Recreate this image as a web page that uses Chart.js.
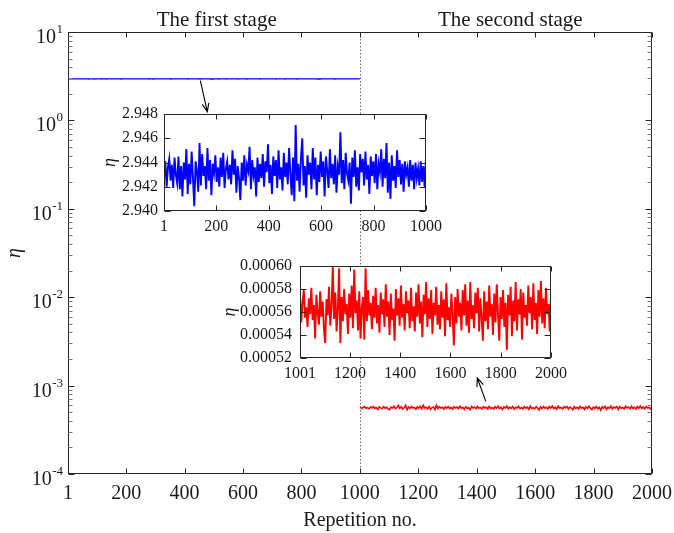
<!DOCTYPE html>
<html>
<head>
<meta charset="utf-8">
<script src="https://cdn.jsdelivr.net/npm/chart.js@4.4.1/dist/chart.umd.min.js"></script>
<style>
  html, body { margin: 0; padding: 0; background: #fff; }
  #wrap { position: relative; width: 674px; height: 533px; }
  canvas { position: absolute; }
</style>
</head>
<body>
<div id="wrap">
  <canvas id="main" width="674" height="533" style="left:0;top:0"></canvas>
  <canvas id="inset1" width="360" height="140" style="left:90px;top:100px"></canvas>
  <canvas id="inset2" width="360" height="130" style="left:215px;top:255px"></canvas>
</div>
<script>
// 第一阶段 η（每5次重复取一个值，读自插图）
const stage1Eta = [
  2.9428, 2.9441, 2.9420, 2.9436, 2.9443, 2.9425, 2.9438, 2.9419, 2.9444, 2.9430,
  2.9423, 2.9445, 2.9418, 2.9437, 2.9412, 2.9440, 2.9426, 2.9451, 2.9414, 2.9439,
  2.9422, 2.9449, 2.9427, 2.9404, 2.9441, 2.9433, 2.9416, 2.9456, 2.9421, 2.9447,
  2.9429, 2.9437, 2.9418, 2.9452, 2.9425, 2.9442, 2.9413, 2.9439, 2.9431, 2.9446,
  2.9424, 2.9436, 2.9420, 2.9444, 2.9428, 2.9448, 2.9419, 2.9435, 2.9441, 2.9426,
  2.9438, 2.9422, 2.9450, 2.9430, 2.9443, 2.9415, 2.9437, 2.9427, 2.9409, 2.9440,
  2.9425, 2.9446, 2.9421, 2.9438, 2.9433, 2.9453, 2.9418, 2.9442, 2.9429, 2.9436,
  2.9412, 2.9444, 2.9424, 2.9439, 2.9427, 2.9447, 2.9420, 2.9441, 2.9432, 2.9455,
  2.9423, 2.9438, 2.9414, 2.9445, 2.9429, 2.9442, 2.9419, 2.9450, 2.9426, 2.9436,
  2.9417, 2.9448, 2.9428, 2.9440, 2.9422, 2.9452, 2.9431, 2.9413, 2.9444, 2.9408,
  2.9471, 2.9425, 2.9439, 2.9416, 2.9443, 2.9460, 2.9421, 2.9437, 2.9411, 2.9446,
  2.9430, 2.9440, 2.9418, 2.9452, 2.9426, 2.9444, 2.9413, 2.9438, 2.9424, 2.9449,
  2.9428, 2.9441, 2.9412, 2.9445, 2.9433, 2.9419, 2.9451, 2.9427, 2.9439, 2.9422,
  2.9446, 2.9415, 2.9437, 2.9430, 2.9465, 2.9423, 2.9442, 2.9418, 2.9448, 2.9431,
  2.9425, 2.9440, 2.9406, 2.9444, 2.9428, 2.9450, 2.9420, 2.9436, 2.9417, 2.9447,
  2.9432, 2.9443, 2.9421, 2.9449, 2.9426, 2.9438, 2.9414, 2.9445, 2.9429, 2.9441,
  2.9423, 2.9447, 2.9418, 2.9439, 2.9432, 2.9451, 2.9420, 2.9443, 2.9427, 2.9456,
  2.9415, 2.9440, 2.9410, 2.9446, 2.9425, 2.9437, 2.9419, 2.9450, 2.9428, 2.9442,
  2.9422, 2.9439, 2.9416, 2.9441, 2.9430, 2.9436, 2.9420, 2.9442, 2.9425, 2.9438,
  2.9418, 2.9440, 2.9427, 2.9435, 2.9421, 2.9441, 2.9424, 2.9437, 2.9419, 2.9444
];
// 第二阶段 η ×10^4
const stage2EtaE4 = [
  5.74, 5.51, 5.68, 5.79, 5.55, 5.64, 5.47, 5.72, 5.58, 5.81,
  5.53, 5.66, 5.37, 5.75, 5.60, 5.49, 5.78, 5.56, 5.69, 5.45,
  5.33, 5.71, 5.57, 5.82, 5.48, 5.65, 5.99, 5.54, 5.77, 5.43,
  5.62, 5.98, 5.33, 5.73, 5.52, 5.80, 5.58, 5.67, 5.41, 5.76,
  5.55, 5.83, 5.46, 5.97, 5.59, 5.70, 5.44, 5.78, 5.37, 5.64,
  5.73, 5.36, 5.98, 5.52, 5.79, 5.57, 5.68, 5.45, 5.74, 5.55,
  5.81, 5.50, 5.66, 5.42, 5.77, 5.58, 5.71, 5.47, 5.84, 5.56,
  5.69, 5.40, 5.76, 5.53, 5.63, 5.35, 5.80, 5.57, 5.72, 5.48,
  5.83, 5.55, 5.67, 5.44, 5.78, 5.59, 5.70, 5.46, 5.81, 5.52,
  5.65, 5.43, 5.77, 5.56, 5.84, 5.50, 5.69, 5.38, 5.75, 5.58,
  5.86, 5.47, 5.72, 5.54, 5.79, 5.41, 5.68, 5.57, 5.82, 5.49,
  5.66, 5.45, 5.78, 5.55, 5.71, 5.39, 5.85, 5.53, 5.64, 5.47,
  5.76, 5.58, 5.31, 5.73, 5.50, 5.80, 5.56, 5.68, 5.44, 5.79,
  5.57, 5.84, 5.48, 5.70, 5.42, 5.86, 5.54, 5.66, 5.46, 5.77,
  5.59, 5.81, 5.43, 5.72, 5.55, 5.35, 5.78, 5.52, 5.69, 5.45,
  5.83, 5.56, 5.67, 5.40, 5.76, 5.51, 5.84, 5.58, 5.35, 5.73,
  5.54, 5.79, 5.47, 5.68, 5.27, 5.75, 5.57, 5.82, 5.39, 5.70,
  5.52, 5.86, 5.44, 5.71, 5.58, 5.80, 5.36, 5.77, 5.55, 5.66,
  5.48, 5.83, 5.59, 5.73, 5.45, 5.85, 5.53, 5.68, 5.41, 5.79,
  5.56, 5.87, 5.50, 5.72, 5.46, 5.81, 5.58, 5.67, 5.43, 5.76
];

// 重复次数范围
const stage1Range = [1, 1000];
const stage2Range = [1001, 2000];

// 刻度
const mainXTicks = [1, 200, 400, 600, 800, 1000, 1200, 1400, 1600, 1800, 2000];
const mainYDecades = [1e-4, 1e-3, 1e-2, 1e-1, 1, 10];
const inset1XTicks = [1, 200, 400, 600, 800, 1000];
const inset1YTicks = [2.940, 2.942, 2.944, 2.946, 2.948];
const inset2XTicks = [1001, 1200, 1400, 1600, 1800, 2000];
const inset2YTicks = [0.00052, 0.00054, 0.00056, 0.00058, 0.00060];

// 标注
const stageTitles = ['The first stage', 'The second stage'];
const stageTitleX = [510, 1515];
const arrowTails = [[454, 2.81], [1431, 6.62e-4]];
const arrowHeads = [[478, 1.25], [1402, 1.22e-3]];

const FONT = '"Liberation Serif", "Times New Roman", serif';
const AXIS = '#262626';
Chart.defaults.color = '#1a1a1a';
Chart.defaults.font.family = FONT;

function toPoints(values, range, scale) {
  const step = (range[1] - range[0]) / (values.length - 1);
  return values.map((v, i) => ({ x: range[0] + i * step, y: v * scale }));
}
const stage1Points = toPoints(stage1Eta, stage1Range, 1);
const stage2Points = toPoints(stage2EtaE4, stage2Range, 1e-4);

// 画外框和朝内的刻度线
function drawBox(chart, xTicks, yMajor, yMinor) {
  const { ctx, chartArea: a, scales: { x, y } } = chart;
  const L = Math.round(a.left) + 0.5, R = Math.round(a.right) - 0.5;
  const T = Math.round(a.top) + 0.5, B = Math.round(a.bottom) - 0.5;
  ctx.save();
  ctx.strokeStyle = AXIS;
  ctx.lineWidth = 1;
  ctx.strokeRect(L, T, R - L, B - T);
  ctx.beginPath();
  xTicks.forEach(v => {
    const px = Math.round(x.getPixelForValue(v)) + 0.5;
    ctx.moveTo(px, B); ctx.lineTo(px, B - 5);
    ctx.moveTo(px, T); ctx.lineTo(px, T + 5);
  });
  yMajor.forEach(v => {
    const py = Math.round(y.getPixelForValue(v)) + 0.5;
    ctx.moveTo(L, py); ctx.lineTo(L + 6, py);
    ctx.moveTo(R, py); ctx.lineTo(R - 6, py);
  });
  ctx.stroke();
  if (yMinor.length) {
    ctx.strokeStyle = '#777';
    ctx.beginPath();
    yMinor.forEach(v => {
      const py = Math.round(y.getPixelForValue(v)) + 0.5;
      ctx.moveTo(L, py); ctx.lineTo(L + 4, py);
      ctx.moveTo(R, py); ctx.lineTo(R - 4, py);
    });
    ctx.stroke();
  }
  ctx.restore();
}

function drawArrow(ctx, x0, y0, x1, y1) {
  const ang = Math.atan2(y1 - y0, x1 - x0);
  const len = 9, spread = 0.38;
  ctx.beginPath();
  ctx.moveTo(x0, y0); ctx.lineTo(x1, y1);
  ctx.moveTo(x1 - len * Math.cos(ang - spread), y1 - len * Math.sin(ang - spread));
  ctx.lineTo(x1, y1);
  ctx.lineTo(x1 - len * Math.cos(ang + spread), y1 - len * Math.sin(ang + spread));
  ctx.stroke();
}

const mainMinor = [];
mainYDecades.slice(0, -1).forEach(d => {
  for (let m = 2; m <= 9; m++) mainMinor.push(d * m);
});

const mainPlugin = {
  id: 'mainDecor',
  beforeDatasetsDraw(chart) {
    const { ctx, chartArea: a, scales: { x } } = chart;
    // 两阶段分界虚线
    const px = Math.round(x.getPixelForValue(stage1Range[1])) + 0.5;
    ctx.save();
    ctx.strokeStyle = '#666';
    ctx.setLineDash([1.5, 2]);
    ctx.beginPath();
    ctx.moveTo(px, a.top); ctx.lineTo(px, a.bottom);
    ctx.stroke();
    ctx.restore();
  },
  afterDraw(chart) {
    const { ctx, chartArea: a, scales: { x, y } } = chart;
    drawBox(chart, mainXTicks, mainYDecades, mainMinor);
    ctx.save();
    ctx.fillStyle = '#1a1a1a';
    // 10^n 刻度标签
    mainYDecades.forEach(d => {
      const py = y.getPixelForValue(d);
      const e = String(Math.round(Math.log10(d)));
      const right = a.left - 5;
      ctx.textAlign = 'right';
      ctx.textBaseline = 'alphabetic';
      ctx.font = '13px ' + FONT;
      const ew = ctx.measureText(e).width;
      ctx.fillText(e, right, py + 1);
      ctx.font = '20px ' + FONT;
      ctx.fillText('10', right - ew - 0.5, py + 11);
    });
    // 阶段标题
    ctx.font = '21px ' + FONT;
    ctx.textAlign = 'center';
    stageTitles.forEach((t, i) => ctx.fillText(t, x.getPixelForValue(stageTitleX[i]), 26));
    // 箭头
    ctx.strokeStyle = '#000';
    ctx.lineWidth = 1.1;
    arrowTails.forEach((t, i) => {
      const h = arrowHeads[i];
      drawArrow(ctx, x.getPixelForValue(t[0]), y.getPixelForValue(t[1]),
        x.getPixelForValue(h[0]), y.getPixelForValue(h[1]));
    });
    ctx.restore();
  }
};

const noGrid = { display: false, drawTicks: false };

new Chart(document.getElementById('main'), {
  type: 'line',
  data: {
    datasets: [
      { data: stage1Points, borderColor: '#0000ff', borderWidth: 1.3 },
      { data: stage2Points, borderColor: '#ff0000', borderWidth: 1.6 }
    ]
  },
  options: {
    responsive: false,
    animation: false,
    devicePixelRatio: 1,
    layout: { padding: { top: 32, right: 22, left: 0, bottom: 0 } },
    elements: { point: { radius: 0 }, line: { tension: 0 } },
    plugins: { legend: { display: false }, tooltip: { enabled: false } },
    scales: {
      x: {
        type: 'linear', min: 1, max: 2000,
        grid: noGrid, border: { display: false },
        afterBuildTicks: s => { s.ticks = mainXTicks.map(v => ({ value: v })); },
        afterFit: s => { s.height = 59; s.paddingLeft = 0; s.paddingRight = 0; },
        ticks: { font: { size: 20 }, padding: 8, maxRotation: 0, autoSkip: false, callback: v => String(v) },
        title: { display: true, text: 'Repetition no.', font: { size: 20 }, padding: { top: 0, bottom: 0 } }
      },
      y: {
        type: 'logarithmic', min: 1e-4, max: 10,
        grid: noGrid, border: { display: false },
        ticks: { display: false },
        afterFit: s => { s.width = 68; s.paddingTop = 0; s.paddingBottom = 0; },
        title: { display: true, text: 'η', font: { size: 20, style: 'italic' }, padding: { top: 3, bottom: 0 } }
      }
    }
  },
  plugins: [mainPlugin]
});

function makeInset(id, points, color, xr, yr, xTicks, yTicks, yFmt, dims) {
  const insetPlugin = {
    id: 'insetDecor',
    beforeDraw(chart) {
      const { ctx, chartArea: a } = chart;
      ctx.save();
      ctx.fillStyle = '#fff';
      ctx.fillRect(a.left, a.top, a.right - a.left, a.bottom - a.top);
      ctx.restore();
    },
    afterDraw(chart) { drawBox(chart, xTicks, yTicks, []); }
  };
  return new Chart(document.getElementById(id), {
    type: 'line',
    data: { datasets: [{ data: points, borderColor: color, borderWidth: 1.9 }] },
    options: {
      responsive: false,
      animation: false,
      devicePixelRatio: 1,
      layout: { padding: { top: dims.top, right: dims.right, left: 0, bottom: 0 } },
      elements: { point: { radius: 0 }, line: { tension: 0 } },
      plugins: { legend: { display: false }, tooltip: { enabled: false } },
      scales: {
        x: {
          type: 'linear', min: xr[0], max: xr[1],
          grid: noGrid, border: { display: false },
          afterBuildTicks: s => { s.ticks = xTicks.map(v => ({ value: v })); },
          afterFit: s => { s.height = dims.xh; s.paddingLeft = 0; s.paddingRight = 0; },
          ticks: { font: { size: 16 }, padding: dims.xpad, maxRotation: 0, autoSkip: false, callback: v => String(v) }
        },
        y: {
          type: 'linear', min: yr[0], max: yr[1],
          grid: noGrid, border: { display: false },
          afterBuildTicks: s => { s.ticks = yTicks.map(v => ({ value: v })); },
          afterFit: s => { s.width = dims.yw; s.paddingTop = 0; s.paddingBottom = 0; },
          ticks: { font: { size: 16 }, padding: dims.ypad, autoSkip: false, callback: yFmt },
          title: { display: true, text: 'η', font: { size: 18, style: 'italic' }, padding: { top: dims.tpad, bottom: 0 } }
        }
      }
    },
    plugins: [insetPlugin]
  });
}

makeInset('inset1', stage1Points, '#0000ff', stage1Range, [2.940, 2.948],
  inset1XTicks, inset1YTicks, v => v.toFixed(3),
  { top: 14, right: 24, xh: 29, yw: 74, xpad: 6, ypad: 6, tpad: 9 });

makeInset('inset2', stage2Points, '#ff0000', stage2Range, [0.00052, 0.00060],
  inset2XTicks, inset2YTicks, v => v.toFixed(5),
  { top: 11, right: 24, xh: 27, yw: 85, xpad: 6, ypad: 8, tpad: 4 });
</script>
</body>
</html>
